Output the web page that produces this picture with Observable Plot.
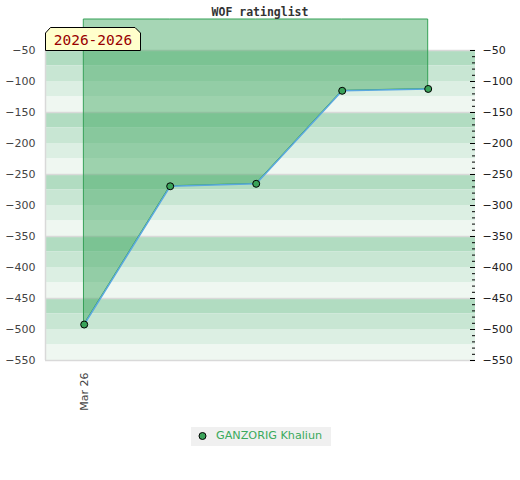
<!DOCTYPE html>
<html>
<head>
<meta charset="utf-8">
<script src="https://cdn.jsdelivr.net/npm/d3@7"></script>
<script src="https://cdn.jsdelivr.net/npm/@observablehq/plot@0.6"></script>
<style>
  html, body { margin: 0; padding: 0; background: #fff; }
  #wrap { position: relative; width: 520px; height: 480px; font-family: "DejaVu Sans", sans-serif; }
  #wrap > svg.plot { position: absolute; left: 0; top: 0; }
  #title { position: absolute; left: 0; width: 520px; top: 5px; text-align: center;
    font: bold 11.5px "DejaVu Sans Mono", monospace; color: #333; }
  #legend { position: absolute; left: 191px; top: 427px; width: 140px; height: 19px; background: #f0f0f0; }
  #legend span { position: absolute; left: 25px; top: 2px; font: 11.2px "DejaVu Sans", sans-serif; color: #3aaa5c; white-space: nowrap; }
  #legend svg { position: absolute; left: 0; top: 0; }
  #badge { position: absolute; left: 45px; top: 27px; }
</style>
</head>
<body>
<div id="wrap"></div>
<script>
// ---- data ----
const dates = ["Mar 26", "Mar 26", "Mar 26", "Mar 26", "Mar 26"];
const ratings = [-492, -269, -265, -115, -112];
const seriesName = "GANZORIG Khaliun";
const chartTitle = "WOF ratinglist";
const periodLabel = "2026-2026";
const yTicks = [-50, -100, -150, -200, -250, -300, -350, -400, -450, -500, -550];
const bandColors = ["#b1dcc1", "#c8e6d3", "#dcefe3", "#eff7f1"];

const points = ratings.map((v, i) => ({i, v, date: dates[i]}));
const bands = d3.range(-50, -550, -25).map((top, k) => ({top, bottom: top - 25, k}));
const gridLines = d3.range(-50, -551, -100);
const minorTicks = d3.range(-50, -551, -10);
const majorTicks = yTicks;
const xMin = -0.45, xMax = 4.55;

const plot = Plot.plot({
  width: 520,
  height: 480,
  marginLeft: 45,
  marginRight: 45,
  marginTop: 50,
  marginBottom: 120,
  style: {fontFamily: "DejaVu Sans, sans-serif", fontSize: "11px", color: "#444", background: "transparent", overflow: "visible"},
  x: {type: "linear", domain: [xMin, xMax], label: null},
  y: {domain: [-550, -50], label: null},
  marks: [
    Plot.rectY(bands, {y1: "top", y2: "bottom", fill: d => bandColors[d.k % 4]}),
    Plot.ruleY(gridLines, {stroke: "#d9d9d9", strokeWidth: 1.5}),
    Plot.ruleX([xMin], {stroke: "#d9d9d9", strokeWidth: 1.5}),
    Plot.areaY(points, {x: "i", y1: 0, y2: "v", fill: "rgb(58,165,92)", fillOpacity: 0.45, stroke: "#35a057", strokeWidth: 1, clip: false}),
    Plot.line(points, {x: "i", y: "v", stroke: "#5ba8e0", strokeWidth: 1.5}),
    Plot.dot(points, {x: "i", y: "v", r: 3.5, fill: "#3aa35a", stroke: "#000", strokeWidth: 1}),
    Plot.ruleY(minorTicks, {insetLeft: 427, stroke: "#000", strokeWidth: 1}),
    Plot.ruleY(majorTicks, {insetLeft: 425, stroke: "#000", strokeWidth: 1}),
    Plot.axisY(yTicks, {anchor: "left", tickSize: 0, tickPadding: 10, fill: "#444", fontSize: 11, label: null}),
    Plot.axisY(yTicks, {anchor: "right", tickSize: 0, tickPadding: 7, fill: "#222", fontSize: 11, label: null}),
    Plot.axisX([0], {anchor: "bottom", tickSize: 0, tickPadding: 12, tickRotate: -90, tickFormat: i => dates[i], fill: "#444", fontSize: 11, label: null})
  ]
});
plot.classList.add("plot");

const wrap = document.getElementById("wrap");
wrap.appendChild(plot);

const title = document.createElement("div");
title.id = "title";
title.textContent = chartTitle;
wrap.appendChild(title);

// period badge
const badge = d3.create("svg").attr("id", "badge").attr("width", 97).attr("height", 24);
badge.append("path")
  .attr("d", "M0.5,23.5 L0.5,6 L5.5,0.5 L90,0.5 L95.5,6 L95.5,23.5 Z")
  .attr("fill", "#ffffcc").attr("stroke", "#000").attr("stroke-width", 1);
badge.append("text").attr("x", 48).attr("y", 18).attr("text-anchor", "middle")
  .attr("font-family", "DejaVu Sans Mono, monospace").attr("font-size", 14.5)
  .attr("fill", "#990000").text(periodLabel);
wrap.appendChild(badge.node());

// legend
const legend = document.createElement("div");
legend.id = "legend";
const ls = d3.create("svg").attr("width", 24).attr("height", 19);
ls.append("circle").attr("cx", 11.5).attr("cy", 9).attr("r", 3.5).attr("fill", "#3aa35a").attr("stroke", "#000");
legend.appendChild(ls.node());
const lt = document.createElement("span");
lt.textContent = seriesName;
legend.appendChild(lt);
wrap.appendChild(legend);
</script>
</body>
</html>
